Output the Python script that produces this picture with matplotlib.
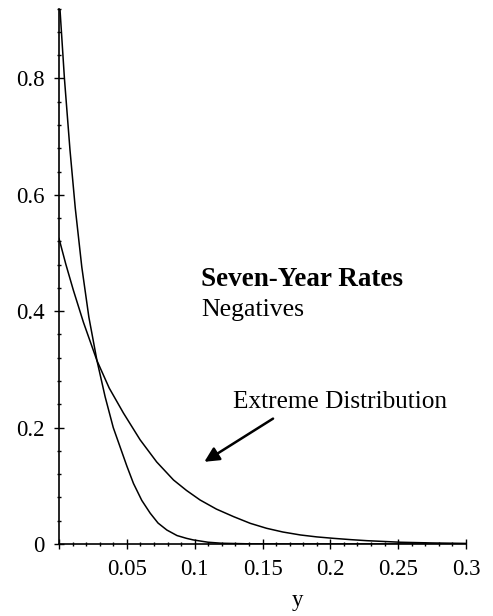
import matplotlib
matplotlib.use("Agg")
import matplotlib.pyplot as plt
from matplotlib.ticker import MultipleLocator, FixedLocator

plt.rcParams['font.family'] = ['Liberation Serif', 'DejaVu Serif']

# Steep curve
steep_x = [0.0, 0.004, 0.0081, 0.012, 0.0168, 0.022, 0.028, 0.034, 0.040, 0.045,
           0.050, 0.0549, 0.061, 0.0672, 0.073, 0.0795, 0.087, 0.094, 0.099,
           0.11, 0.12, 0.14, 0.17, 0.3]
steep_y = [0.945, 0.80, 0.677, 0.577, 0.476, 0.390, 0.315, 0.253, 0.200, 0.167,
           0.134, 0.104, 0.075, 0.053, 0.036, 0.024, 0.0145, 0.0097, 0.007,
           0.003, 0.0013, 0.0003, 0.0, 0.0]

# Slow curve (Extreme Distribution)
slow_x = [0.0, 0.005, 0.0106, 0.018, 0.028, 0.037, 0.0475, 0.0598, 0.072, 0.0844,
          0.094, 0.104, 0.116, 0.1287, 0.141, 0.153, 0.165, 0.178, 0.19, 0.2025,
          0.215, 0.227, 0.24, 0.252, 0.275, 0.3]
slow_y = [0.525, 0.481, 0.436, 0.381, 0.315, 0.268, 0.225, 0.179, 0.141, 0.110,
          0.092, 0.0756, 0.060, 0.047, 0.0355, 0.027, 0.0206, 0.0155, 0.0122, 0.0097,
          0.0075, 0.0057, 0.0043, 0.003, 0.0018, 0.001]

x_ticks = [0.0, 0.05, 0.1, 0.15, 0.2, 0.25, 0.3]
x_labels = ["", "0.05", "0.1", "0.15", "0.2", "0.25", "0.3"]
y_ticks = [0, 0.2, 0.4, 0.6, 0.8]
y_labels = ["0", "0.2", "0.4", "0.6", "0.8"]

fig = plt.figure(figsize=(4.93, 6.16), dpi=100)
ax = fig.add_axes([59/493, (616-544)/616, (466-59)/493, (544-8.6)/616])

ax.plot(steep_x, steep_y, color='black', lw=1.1)
ax.plot(slow_x, slow_y, color='black', lw=1.1)

ax.set_xlim(0, 0.3)
ax.set_ylim(0, 0.92)

for s in ['top', 'right']:
    ax.spines[s].set_visible(False)
for s in ['left', 'bottom']:
    ax.spines[s].set_linewidth(1.2)

ax.xaxis.set_major_locator(FixedLocator(x_ticks))
ax.set_xticklabels(x_labels)
ax.yaxis.set_major_locator(FixedLocator(y_ticks))
ax.set_yticklabels(y_labels)
ax.xaxis.set_minor_locator(MultipleLocator(0.01))
ax.yaxis.set_minor_locator(MultipleLocator(0.04))
ax.tick_params(which='major', direction='inout', length=7, width=1.0, labelsize=16.5)
ax.tick_params(which='minor', direction='inout', length=3.5, width=1.0)
ax.tick_params(axis='x', which='major', pad=7)
ax.tick_params(axis='y', which='major', pad=7)

ax.set_xlabel('y', fontsize=16.5)
ax.xaxis.set_label_coords(0.585, -0.085)

ax.text(0.1049, 0.443, 'Seven-Year Rates', fontsize=19.5, fontweight='bold',
        va='baseline', ha='left')
ax.text(0.1049, 0.391, 'Negatives', fontsize=18.5, va='baseline', ha='left')
ax.text(0.1285, 0.234, 'Extreme Distribution', fontsize=18.2, va='baseline', ha='left')
ax.annotate('', xy=(0.1054, 0.1387), xytext=(0.1595, 0.218),
            arrowprops=dict(arrowstyle='-|>', color='black', lw=1.8, mutation_scale=22))

fig.savefig('out.png', dpi=100)
